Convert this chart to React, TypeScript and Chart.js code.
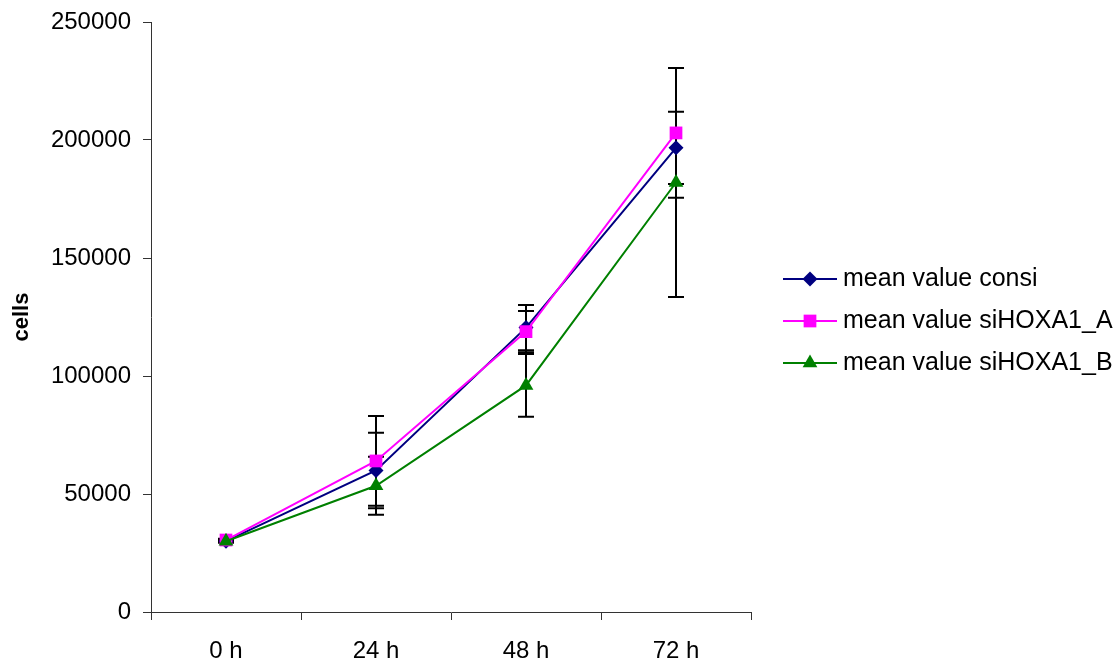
import React, { useEffect, useRef } from "react";
import { Chart, registerables } from "chart.js";
import { drawPoint } from "chart.js/helpers";

Chart.register(...registerables);

const categories = ["0 h", "24 h", "48 h", "72 h"];
const seriesNames = ["mean value consi", "mean value siHOXA1_A", "mean value siHOXA1_B"];
const consi = [30000, 60000, 120500, 196700];
const siA = [30500, 64000, 118800, 203000];
const siB = [30000, 53500, 96000, 182000];
const errConsi = [500, 16000, 9600, 15300];
const errA = [500, 19000, 8700, 27500];
const errB = [500, 12300, 13300, 48500];
const yTicks = [0, 50000, 100000, 150000, 200000, 250000];

const colors = ["#000080", "#FF00FF", "#008000"];
const pointStyles = ["rectRot", "rect", "triangle"];
const pointRadii = [7.5, 9, 8.5];
const errors = [errConsi, errA, errB];

const FONT = "'Liberation Sans', Arial, sans-serif";

const errorBarPlugin = {
  id: "errorBars",
  beforeDatasetsDraw(chart: any) {
    const { ctx } = chart;
    const x = chart.scales.x;
    const y = chart.scales.y;
    ctx.save();
    ctx.strokeStyle = "#000";
    ctx.lineWidth = 2;
    chart.data.datasets.forEach((ds: any, i: number) => {
      const errs = errors[i];
      ds.data.forEach((v: number, j: number) => {
        const px = x.getPixelForValue(j);
        const top = y.getPixelForValue(v + errs[j]);
        const bot = y.getPixelForValue(v - errs[j]);
        ctx.beginPath();
        ctx.moveTo(px, top);
        ctx.lineTo(px, bot);
        ctx.moveTo(px - 8, top);
        ctx.lineTo(px + 8, top);
        ctx.moveTo(px - 8, bot);
        ctx.lineTo(px + 8, bot);
        ctx.stroke();
      });
    });
    ctx.restore();
  },
};

const legendPlugin = {
  id: "customLegend",
  afterDraw(chart: any) {
    const { ctx } = chart;
    ctx.save();
    const x0 = 783;
    const x1 = 837;
    const ys = [279, 321, 363];
    seriesNames.forEach((name, i) => {
      const yy = ys[i];
      ctx.strokeStyle = colors[i];
      ctx.lineWidth = 2;
      ctx.beginPath();
      ctx.moveTo(x0, yy);
      ctx.lineTo(x1, yy);
      ctx.stroke();
      ctx.fillStyle = colors[i];
      drawPoint(ctx, { pointStyle: pointStyles[i], radius: pointRadii[i], rotation: 0, borderWidth: 0 } as any, (x0 + x1) / 2, yy);
      ctx.fillStyle = "#000";
      ctx.font = `25px ${FONT}`;
      ctx.textBaseline = "middle";
      ctx.textAlign = "left";
      ctx.fillText(name, 843, yy);
    });
    ctx.restore();
  },
};

export default function App() {
  const ref = useRef<HTMLCanvasElement>(null);
  useEffect(() => {
    if (!ref.current) return;
    const seriesData = [consi, siA, siB];
    const chart = new Chart(ref.current, {
      type: "line",
      data: {
        labels: categories,
        datasets: seriesData.map((d, i) => ({
          label: seriesNames[i],
          data: d,
          borderColor: colors[i],
          backgroundColor: colors[i],
          borderWidth: 2,
          pointStyle: pointStyles[i] as any,
          pointRadius: pointRadii[i],
          pointBorderWidth: 0,
          pointBackgroundColor: colors[i],
          tension: 0,
          order: 2 - i,
        })),
      },
      options: {
        animation: false,
        responsive: false,
        devicePixelRatio: 1,
        layout: { padding: { top: 22, right: 369, bottom: 0, left: 0 } },
        plugins: {
          legend: { display: false },
          tooltip: { enabled: false },
        },
        scales: {
          x: {
            type: "category",
            offset: true,
            afterFit: (s: any) => {
              s.height = 52;
              s.paddingLeft = 0;
              s.paddingRight = 0;
            },
            grid: {
              offset: true,
              drawOnChartArea: false,
              drawTicks: true,
              tickLength: 8,
              color: "#333",
            },
            border: { color: "#333", width: 1 },
            ticks: {
              color: "#000",
              font: { family: FONT, size: 24 },
              padding: 17,
              maxRotation: 0,
            },
          },
          y: {
            min: 0,
            max: 250000,
            afterFit: (s: any) => {
              s.width = 151;
              s.paddingTop = 0;
              s.paddingBottom = 0;
            },
            afterBuildTicks: (s: any) => {
              s.ticks = yTicks.map((v) => ({ value: v }));
            },
            grid: {
              drawOnChartArea: false,
              drawTicks: true,
              tickLength: 8,
              color: "#333",
            },
            border: { color: "#333", width: 1 },
            ticks: {
              color: "#000",
              font: { family: FONT, size: 24 },
              padding: 12,
              callback: (v: any) => String(v),
            },
            title: {
              display: true,
              text: "cells",
              color: "#000",
              font: { family: FONT, size: 22, weight: "bold" },
              padding: { top: 9, bottom: 0 },
            },
          },
        },
      },
      plugins: [errorBarPlugin, legendPlugin],
    });
    return () => chart.destroy();
  }, []);
  return (
    <div style={{ position: "fixed", left: 0, top: 0, width: 1120, height: 664, background: "#fff" }}>
      <canvas ref={ref} width={1120} height={664} style={{ display: "block" }} />
    </div>
  );
}
